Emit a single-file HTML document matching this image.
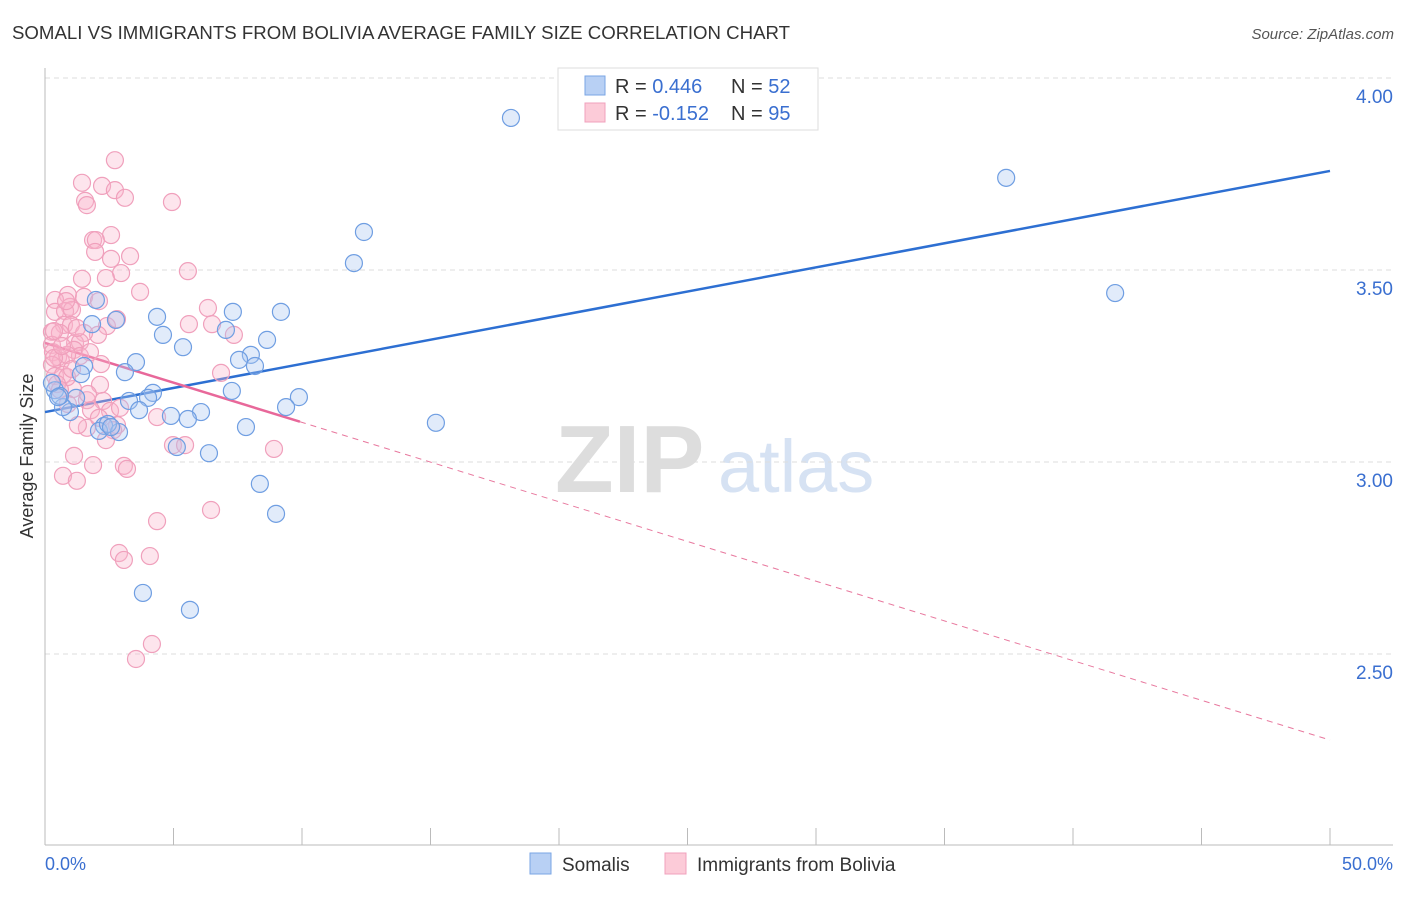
<!DOCTYPE html>
<html><head><meta charset="utf-8"><style>
body{margin:0;background:#fff;font-family:"Liberation Sans",sans-serif;}
svg text{font-family:"Liberation Sans",sans-serif;}
</style></head><body>
<svg id="chart" width="1406" height="892" xmlns="http://www.w3.org/2000/svg">
<text x="12" y="39" font-size="18" fill="#333" textLength="778" lengthAdjust="spacingAndGlyphs">SOMALI VS IMMIGRANTS FROM BOLIVIA AVERAGE FAMILY SIZE CORRELATION CHART</text>
<text x="1394" y="39" font-size="15" fill="#555" font-style="italic" text-anchor="end">Source: ZipAtlas.com</text>
<text transform="translate(33,456) rotate(-90)" font-size="18" fill="#333" text-anchor="middle">Average Family Size</text>
<g>
<text x="555" y="492" font-size="96" fill="#ddd" font-family="Liberation Serif" font-weight="bold">ZIP</text>
<text x="718" y="492" font-size="74" fill="#d6e2f3">atlas</text>
</g>
<g id="grid"></g><g id="axes"></g><g id="lines"></g><g id="pts"></g>
<g>
<rect x="558" y="68" width="260" height="62" fill="#fff" stroke="#ddd"/>
<rect x="585" y="76" width="20" height="19" fill="#b8d0f4" stroke="#7aa6e4"/>
<rect x="585" y="103" width="20" height="19" fill="#fccbd8" stroke="#f0a0bc"/>
<text x="615" y="93" font-size="20" fill="#333">R = <tspan fill="#3a6fd0">0.446</tspan></text>
<text x="731" y="93" font-size="20" fill="#333">N = <tspan fill="#3a6fd0">52</tspan></text>
<text x="615" y="120" font-size="20" fill="#333">R = <tspan fill="#3a6fd0">-0.152</tspan></text>
<text x="731" y="120" font-size="20" fill="#333">N = <tspan fill="#3a6fd0">95</tspan></text>
</g>
<g>
<rect x="530" y="853" width="21" height="21" fill="#b8d0f4" stroke="#7aa6e4"/>
<text x="562" y="871" font-size="19" fill="#333">Somalis</text>
<rect x="665" y="853" width="21" height="21" fill="#fccbd8" stroke="#f0a0bc"/>
<text x="697" y="871" font-size="19" fill="#333">Immigrants from Bolivia</text>
</g>
<text x="45" y="870" font-size="18" fill="#3a6fd0">0.0%</text>
<text x="1393" y="870" font-size="18" fill="#3a6fd0" text-anchor="end">50.0%</text>
</svg>
<script>
const yTicks=[4.0,3.5,3.0,2.5];
const yTickLabels=["4.00","3.50","3.00","2.50"];
const xTicks=[0,5,10,15,20,25,30,35,40,45,50];
const somaliX=[18.13,37.40,41.64,12.41,12.02,15.21,9.18,7.31,8.64,7.04,8.01,7.55,8.17,9.88,9.38,7.27,7.82,8.36,8.99,5.64,3.81,6.38,5.13,6.07,5.56,4.90,4.36,5.37,4.59,3.54,3.11,2.76,1.83,1.98,1.52,1.40,4.20,4.01,3.27,3.66,2.30,2.88,2.10,2.45,1.21,0.97,0.70,0.39,0.58,0.27,2.57,0.51];
const somaliY=[3.896,3.740,3.440,3.599,3.518,3.102,3.391,3.391,3.318,3.344,3.279,3.266,3.250,3.169,3.143,3.185,3.091,2.943,2.865,2.615,2.659,3.023,3.039,3.130,3.112,3.120,3.378,3.299,3.331,3.260,3.234,3.370,3.359,3.422,3.250,3.229,3.180,3.167,3.159,3.135,3.094,3.078,3.081,3.099,3.167,3.130,3.143,3.187,3.172,3.206,3.091,3.169];
const boliviaX=[2.72,1.44,2.22,1.56,1.63,2.72,3.11,4.94,2.57,1.87,1.98,1.95,3.31,2.57,2.96,5.56,2.37,1.44,3.70,0.89,0.39,1.52,2.10,0.97,0.39,0.78,1.05,6.34,5.60,6.50,7.35,2.41,0.74,1.01,2.06,1.52,0.27,0.58,1.17,1.36,0.27,0.31,1.13,1.36,0.51,0.62,0.27,6.85,2.14,1.09,0.39,0.70,0.86,1.63,2.26,2.53,2.92,1.79,2.80,1.63,1.28,4.36,2.65,2.37,1.13,1.87,3.07,3.19,4.98,5.45,8.91,0.70,1.24,4.36,6.46,2.88,4.08,3.07,4.16,3.54,0.47,0.86,1.67,0.58,0.35,2.10,0.89,0.35,1.05,0.66,1.75,2.18,1.24,0.82,2.80];
const boliviaY=[3.786,3.727,3.719,3.680,3.669,3.708,3.688,3.677,3.591,3.578,3.578,3.547,3.536,3.529,3.492,3.497,3.479,3.477,3.443,3.435,3.422,3.430,3.419,3.404,3.391,3.393,3.396,3.401,3.359,3.359,3.331,3.354,3.357,3.357,3.331,3.336,3.339,3.336,3.310,3.312,3.305,3.286,3.292,3.276,3.273,3.263,3.253,3.232,3.201,3.190,3.224,3.227,3.221,3.161,3.159,3.133,3.141,3.135,3.096,3.089,3.096,3.117,3.083,3.057,3.016,2.992,2.990,2.982,3.044,3.044,3.034,2.964,2.951,2.846,2.875,2.763,2.755,2.745,2.526,2.487,3.203,3.279,3.177,3.188,3.271,3.115,3.151,3.341,3.242,3.302,3.286,3.255,3.349,3.419,3.372];
const somaliTrend=[3.130,3.758];
const boliviaTrend=[3.310,2.276];
const boliviaSolidEnd=9.92;

const X=v=>45+v/50*1285;
const Y=v=>78+(4-v)*384;
const NS="http://www.w3.org/2000/svg";
function mk(tag,attrs,parent){const e=document.createElementNS(NS,tag);for(const k in attrs)e.setAttribute(k,attrs[k]);document.getElementById(parent).appendChild(e);return e;}
yTicks.forEach((t,i)=>{
  const g=mk('line',{x1:45,x2:1393,y1:Y(t),y2:Y(t),stroke:'#ddd','stroke-dasharray':'5,4'},'grid');
  
  
  const l=mk('text',{x:1393,y:Y(t)+25,'font-size':19,fill:'#3a6fd0','text-anchor':'end'},'grid');
  l.textContent=yTickLabels[i];
  
  
});
const ax=mk('line',{x1:45,x2:45,y1:68,y2:845,stroke:'#bbb'},'axes');


const bx=mk('line',{x1:45,x2:1393,y1:845,y2:845,stroke:'#bbb'},'axes');


xTicks.forEach(t=>{
  const e=mk('line',{x1:X(t),x2:X(t),y1:828,y2:845,stroke:'#bbb'},'axes');
  
  
});
function pts(xs,ys,fill,stroke,name){
  xs.forEach((x,i)=>{
    const c=mk('circle',{cx:X(x),cy:Y(ys[i]),r:8.5,fill:fill,stroke:stroke,'stroke-width':1.2},'pts');
    
    
  });
}
pts(boliviaX,boliviaY,'rgba(248,180,202,0.35)','#f0a0bc','bolivia-point');
pts(somaliX,somaliY,'rgba(170,198,242,0.35)','#6f9ee2','somali-point');
const bl=mk('line',{x1:X(0),y1:Y(somaliTrend[0]),x2:X(50),y2:Y(somaliTrend[1]),stroke:'#2d6fd2','stroke-width':2.5},'lines');


const py=x=>boliviaTrend[0]+(boliviaTrend[1]-boliviaTrend[0])*x/50;
const pd=mk('line',{x1:X(boliviaSolidEnd),y1:Y(py(boliviaSolidEnd)),x2:X(50),y2:Y(boliviaTrend[1]),stroke:'#e8789e','stroke-width':1,'stroke-dasharray':'6,5'},'lines');


const ps=mk('line',{x1:X(0),y1:Y(boliviaTrend[0]),x2:X(boliviaSolidEnd),y2:Y(py(boliviaSolidEnd)),stroke:'#e8689a','stroke-width':2.5},'lines');


</script>
</body></html>
